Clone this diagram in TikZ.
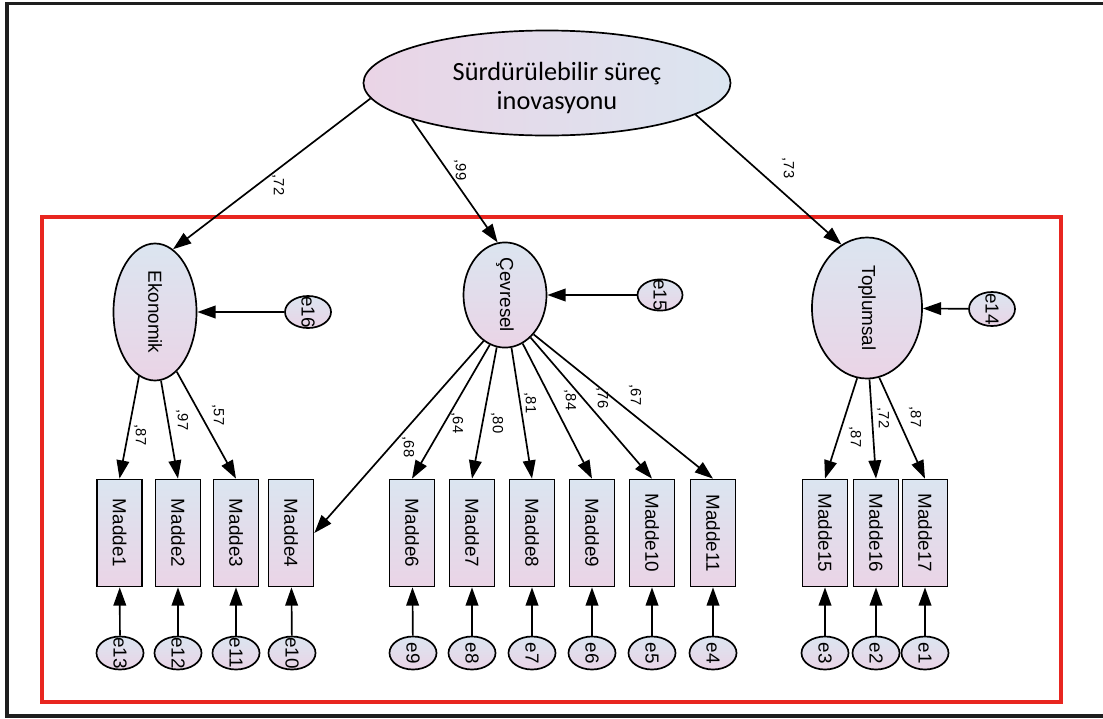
\documentclass[tikz,border=0pt]{standalone}
\usepackage{fontspec}
\setmainfont{Liberation Sans}
\newfontfamily\calfont{Carlito}
\usetikzlibrary{shapes.geometric,arrows.meta}
\definecolor{fillhi}{RGB}{219,229,240}
\definecolor{filllo}{RGB}{234,212,230}
\definecolor{framered}{RGB}{232,38,32}
\definecolor{frameblk}{RGB}{30,30,30}
\newcommand{\vtxt}[1]{\rotatebox{-90}{#1}}

\begin{document}
\begin{tikzpicture}[x=0.025cm,y=-0.025cm,font=\fontsize{13.4}{15}\selectfont,
  box/.style={draw,line width=1.2pt,top color=fillhi,bottom color=filllo,
   minimum width=1.125cm,minimum height=2.675cm,inner sep=0pt},
  lat/.style={draw,ellipse,line width=1.2pt,top color=fillhi,bottom color=filllo,inner sep=0pt},
  err/.style={lat,minimum width=1.175cm,minimum height=0.825cm,inner ysep=-0.14cm},
  pth/.style={-{Triangle[length=13pt,width=9pt]},line width=1.2pt},
  lbl/.style={rotate=-90,inner sep=0pt,font=\fontsize{10.5}{12}\selectfont}]
 \useasboundingbox (0,0) rectangle (1103,718);
 \draw[line width=2.8pt,frameblk] (1110,3.5) -- (7,3.5) -- (7,716) -- (1110,716);
 \draw[line width=3.2pt,framered] (42,217) rectangle (1061,702);

 \node[lat,left color=filllo,right color=fillhi,minimum width=9.175cm,minimum height=2.625cm] (ssi) at (547,83) {};
 \node[align=center,inner sep=0pt,font=\calfont\fontsize{18.7}{20}\selectfont] (ssitxt) at (557,88)
  {Sürdürülebilir süreç\\inovasyonu};
 \node[lat,minimum width=2.075cm,minimum height=3.425cm] (eko) at (155,312) {\vtxt{Ekonomik}};
 \node[lat,minimum width=2.075cm,minimum height=2.6cm] (cev) at (505,295) {\vtxt{Çevresel}};
 \node[lat,minimum width=2.75cm,minimum height=3.525cm] (topl) at (867,308) {\vtxt{Toplumsal}};
 \node[err,minimum width=1.15cm,minimum height=0.8cm] (e16) at (308,312) {\vtxt{e16}};
 \node[err,minimum width=1.125cm,minimum height=0.78cm] (e15) at (660,295) {\vtxt{e15}};
 \node[err,minimum width=1.15cm,minimum height=0.85cm] (e14) at (992,309) {\vtxt{e14}};

 \foreach \m/\x in {1/119.5,2/178,3/236,4/291,6/412,7/472,8/532,9/592,10/652,11/713,15/825,16/876,17/925}
  \node[box] (m\m) at (\x,533) {\vtxt{Madde\m}};
 \foreach \e/\x in {13/120,12/178,11/236,10/292,9/413,8/472,7/532,6/592,5/652,4/713,3/825,2/876,1/925}
  \node[err] (e\e) at (\x,653) {\vtxt{e\e}};

 \draw[pth] (ssi.185) -- (eko.74);
 \draw[pth] (ssi.195) -- (cev.98);
 \draw[pth] (ssi.-12) -- (topl.112);
 \draw[pth] (e16) -- (eko);
 \draw[pth] (e15) -- (cev);
 \draw[pth] (e14) -- (topl);
 \foreach \a/\m in {256/1,275/2,290/3}
  \draw[pth] (eko.\a) -- (m\m.north);
 \draw[pth] (cev.245) -- (m4.east);
 \foreach \a/\m in {253/6,261/7,277/8,290/9,301/10,306/11}
  \draw[pth] (cev.\a) -- (m\m.north);
 \foreach \a/\m in {262/15,272/16,280/17}
  \draw[pth] (topl.\a) -- (m\m.north);
 \foreach \m/\e in {1/13,2/12,3/11,4/10,6/9,7/8,8/7,9/6,10/5,11/4,15/3,16/2,17/1}
  \draw[pth] (e\e) -- (m\m);

 \node[lbl] (w72) at (278,185) {,72};
 \node[lbl] (w99) at (460,170) {,99};
 \node[lbl] (w73) at (788,168) {,73};
 \node[lbl] (w1) at (140,435) {,87};
 \node[lbl] (w2) at (182,420) {,97};
 \node[lbl] (w3) at (218,415) {,57};
 \node[lbl] (w4) at (408,447) {,68};
 \node[lbl] (w6) at (457,423) {,64};
 \node[lbl] (w7) at (497,423) {,80};
 \node[lbl] (w8) at (530,403) {,81};
 \node[lbl] (w9) at (570,400) {,84};
 \node[lbl] (w10) at (602,398) {,76};
 \node[lbl] (w11) at (635,395) {,67};
 \node[lbl] (w15) at (855,437) {,87};
 \node[lbl] (w16) at (883,418) {,72};
 \node[lbl] (w17) at (915,417) {,87};
\end{tikzpicture}
\end{document}
